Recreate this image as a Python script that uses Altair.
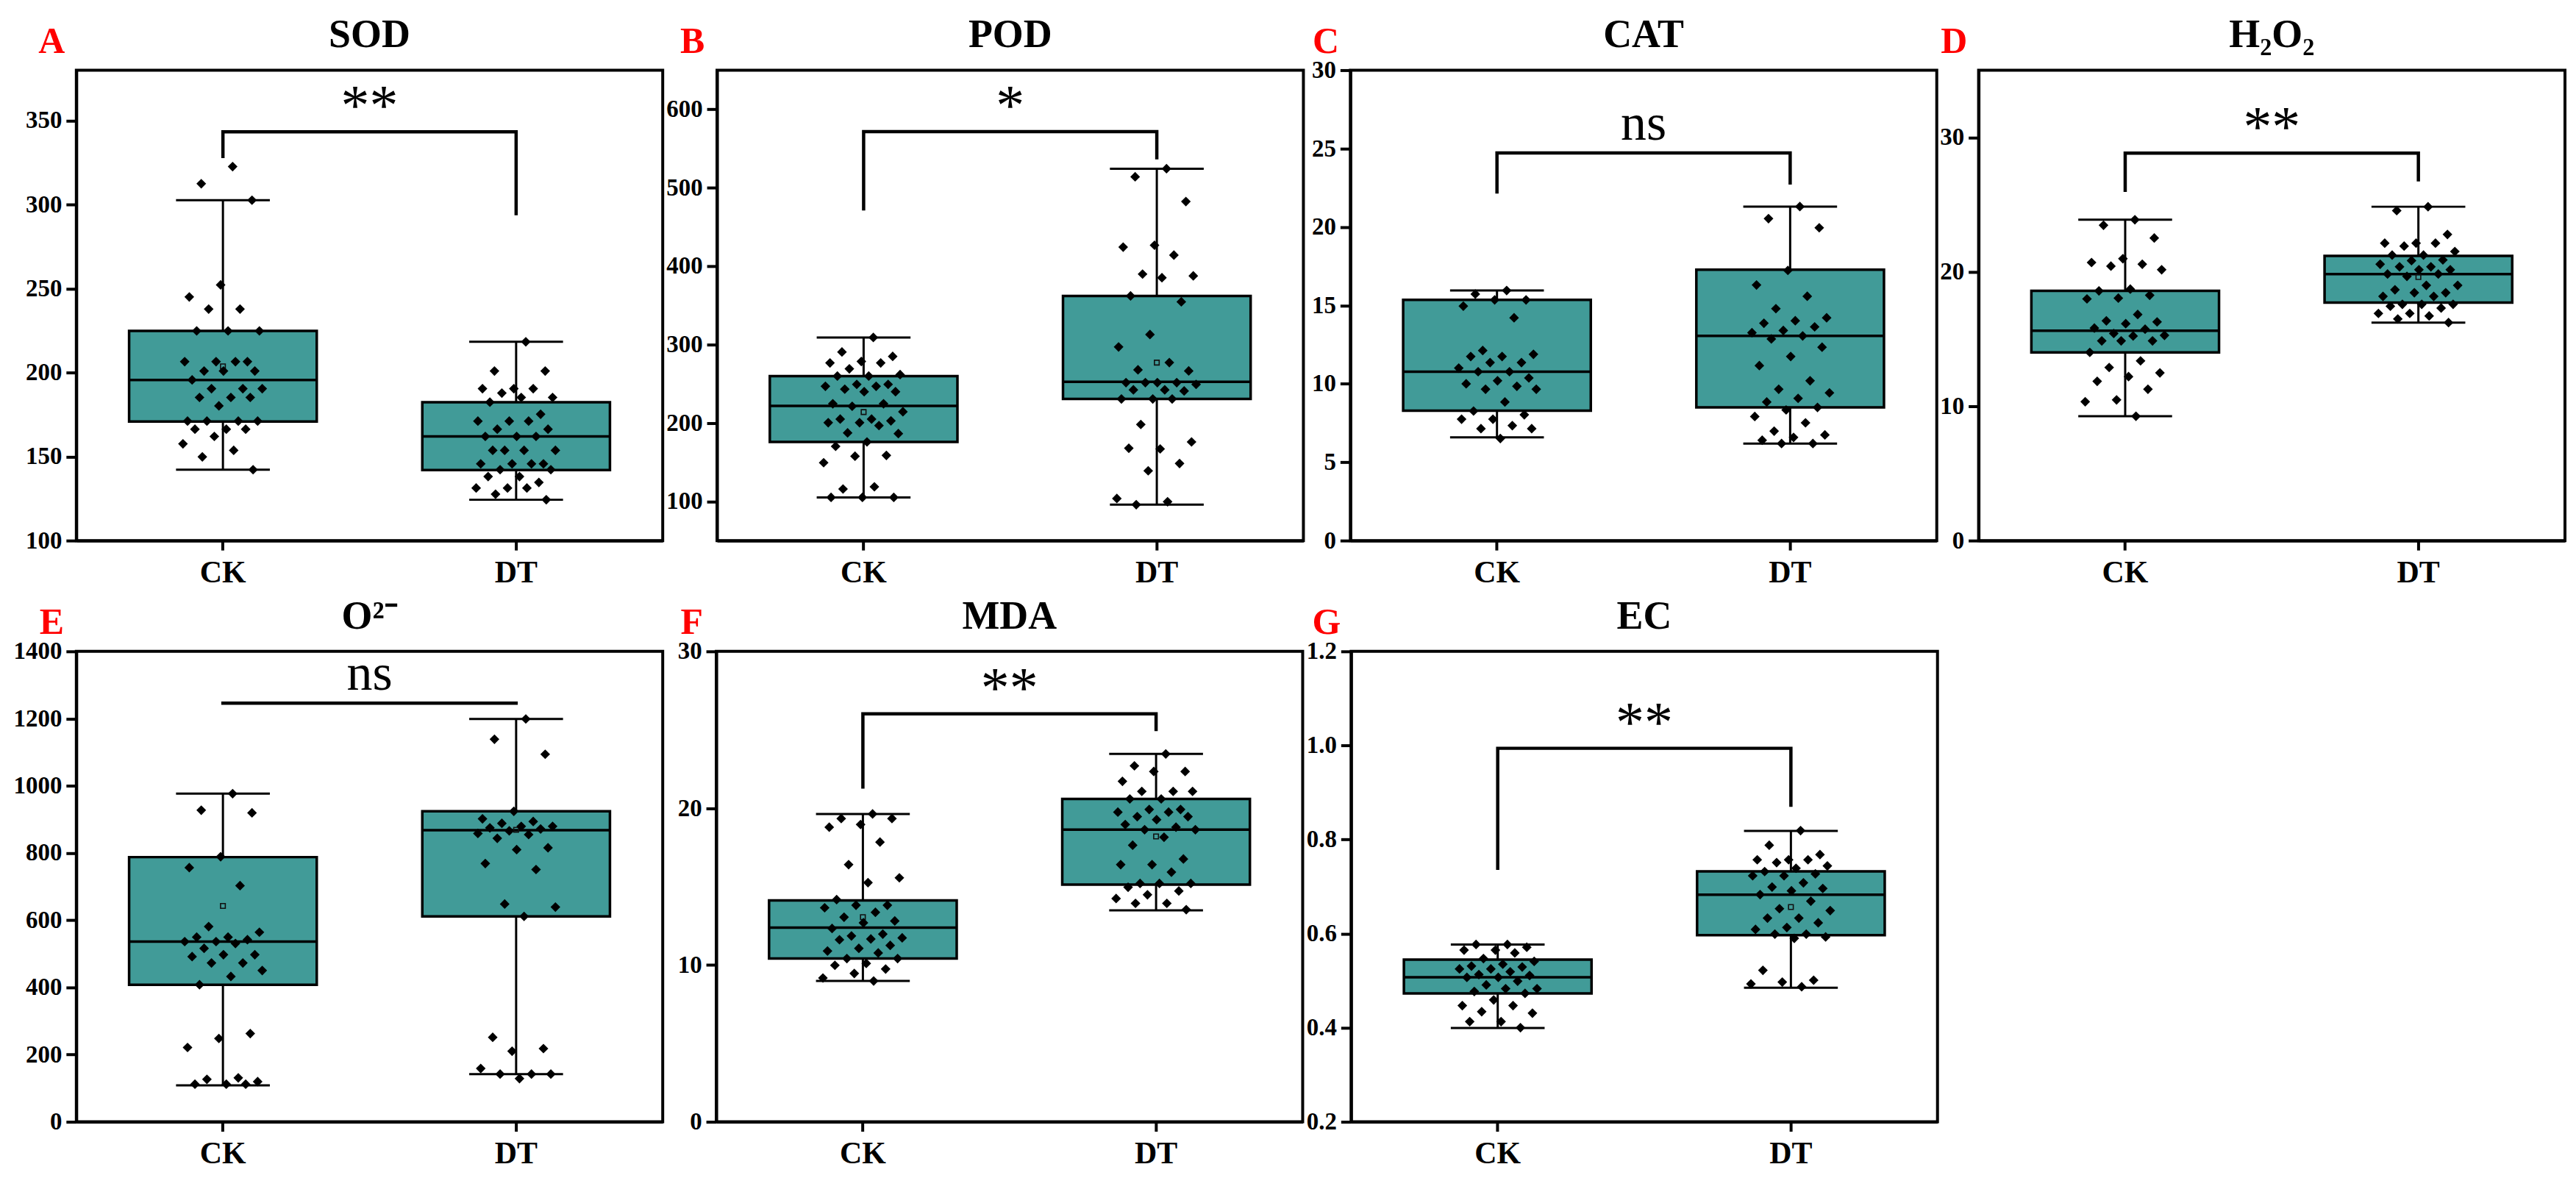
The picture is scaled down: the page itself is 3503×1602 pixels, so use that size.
import altair as alt
import pandas as pd

TEAL = "#419B98"
FONT = "Liberation Serif"
W, H = 799, 641
groups = ["CK", "DT"]

# ---------------- data ----------------
sod_ck = [322.6, 312.4, 302.6, 252.2, 245.0, 237.8, 237.8, 224.8, 224.8, 224.8, 206.5, 206.5, 206.5, 206.5,
          200.9, 200.9, 200.9, 195.6, 190.4, 190.4, 190.4, 185.2, 185.2, 185.2, 180.2, 171.1, 171.1, 171.1,
          171.1, 166.3, 166.3, 166.3, 162.0, 157.6, 153.7, 149.8, 142.2]
sod_dt = [218.3, 200.9, 200.9, 190.4, 190.4, 190.4, 187.8, 185.2, 185.2, 182.4, 175.2, 171.1, 171.1, 171.1,
          166.3, 166.3, 162.0, 162.0, 162.0, 153.7, 153.7, 153.7, 153.7, 145.7, 145.7, 145.7, 145.7, 142.2,
          142.2, 138.1, 138.1, 134.6, 131.3, 131.3, 131.3, 127.6, 124.3]
pod_ck = [309.1, 290.5, 284.9, 278.4, 276.6, 276.6, 269.1, 261.7, 259.8, 259.8, 249.2, 249.2, 246.8, 246.8,
          243.1, 239.9, 239.9, 224.5, 224.5, 221.3, 214.3, 205.0, 205.0, 202.7, 200.4, 200.4, 196.7, 187.4,
          186.4, 175.8, 170.2, 158.6, 157.6, 149.3, 118.6, 115.8, 105.1, 105.1, 105.1]
pod_dt = [524.3, 514.0, 482.4, 426.7, 424.3, 414.1, 389.9, 387.6, 385.3, 362.1, 354.6, 312.8, 297.0, 277.0,
          267.8, 266.4, 251.5, 251.5, 251.5, 251.5, 249.2, 242.2, 242.2, 240.8, 230.6, 230.6, 230.6, 198.1,
          175.8, 166.9, 167.8, 148.3, 139.0, 103.7, 99.5, 95.8]
cat_ck = [15.95, 15.72, 15.35, 15.35, 14.95, 14.21, 12.12, 11.88, 11.74, 11.74, 11.35, 11.35, 11.0, 10.77,
          10.77, 10.37, 10.19, 10.0, 9.84, 9.65, 9.65, 8.84, 8.26, 8.02, 7.74, 7.74, 7.33, 7.14, 7.14, 6.51]
cat_dt = [21.3, 20.53, 19.95, 17.23, 16.3, 15.58, 14.79, 14.21, 14.02, 13.86, 13.63, 13.4, 13.26, 13.05,
          12.86, 12.33, 11.74, 11.16, 10.19, 9.65, 9.42, 9.07, 8.84, 8.49, 8.33, 7.91, 7.51, 6.98, 6.74,
          6.58, 6.4, 6.19, 6.19]
h2o2_ck = [23.87, 23.46, 22.51, 20.97, 20.69, 20.56, 20.42, 20.15, 18.71, 18.58, 18.25, 18.04, 17.98, 16.82,
           16.35, 16.27, 16.14, 15.81, 15.73, 15.41, 15.27, 15.22, 14.86, 14.86, 14.86, 14.0, 13.37, 12.88,
           12.48, 12.2, 11.85, 11.26, 10.47, 10.33, 9.25]
h2o2_dt = [24.84, 24.55, 22.78, 22.13, 22.13, 22.13, 21.91, 21.51, 21.24, 21.24, 20.88, 20.83, 20.56, 20.37,
           20.37, 20.15, 20.15, 19.83, 19.83, 19.66, 18.99, 18.99, 18.66, 18.44, 18.44, 18.17, 18.17, 17.58,
           17.58, 17.58, 17.44, 17.3, 16.9, 16.9, 16.71, 16.49, 16.22]
o2_ck = [976.5, 927.4, 919.5, 788.8, 756.4, 702.8, 581.0, 564.2, 549.7, 549.7, 541.9, 536.3, 536.3, 530.7,
         516.2, 497.2, 497.2, 491.6, 472.6, 472.6, 450.3, 432.4, 407.8, 262.6, 248.0, 221.2, 130.7, 126.3,
         119.6, 112.0, 112.0, 112.0]
o2_dt = [1198.9, 1138.5, 1093.8, 924.0, 901.7, 893.8, 888.3, 879.3, 879.3, 874.8, 871.5, 865.9, 858.1, 854.7,
         843.6, 815.6, 810.0, 768.7, 750.8, 648.0, 639.1, 611.2, 251.4, 217.9, 210.1, 158.7, 141.9, 141.9,
         141.9, 128.5]
mda_ck = [19.63, 19.34, 19.34, 18.96, 18.79, 17.84, 16.4, 15.56, 15.25, 14.17, 13.81, 13.81, 13.65, 13.36,
          13.05, 12.81, 12.69, 12.33, 11.97, 11.85, 11.73, 11.66, 11.61, 11.25, 11.06, 10.89, 10.77, 10.41,
          10.41, 10.1, 9.98, 9.74, 9.46, 9.17, 8.98]
mda_dt = [23.46, 22.7, 22.34, 22.34, 21.71, 21.07, 21.07, 21.07, 20.59, 20.59, 19.92, 19.92, 19.75, 19.75,
          19.46, 19.46, 19.27, 18.96, 18.79, 18.63, 18.63, 18.15, 17.64, 16.76, 16.4, 16.4, 15.92, 15.2,
          15.2, 15.2, 14.96, 14.72, 14.48, 14.24, 13.93, 13.93, 13.53]
ec_ck = [0.577, 0.577, 0.571, 0.565, 0.565, 0.559, 0.547, 0.541, 0.535, 0.531, 0.529, 0.525, 0.525, 0.519,
         0.513, 0.511, 0.507, 0.507, 0.499, 0.491, 0.483, 0.483, 0.477, 0.473, 0.459, 0.447, 0.447, 0.434,
         0.431, 0.413, 0.413, 0.400]
ec_dt = [0.819, 0.788, 0.768, 0.757, 0.757, 0.757, 0.751, 0.744, 0.739, 0.732, 0.727, 0.723, 0.723, 0.708,
         0.699, 0.696, 0.691, 0.683, 0.669, 0.653, 0.649, 0.633, 0.633, 0.623, 0.613, 0.609, 0.599, 0.599,
         0.593, 0.590, 0.522, 0.501, 0.497, 0.493, 0.487]

# box statistics: [whisker low, Q1, median, Q3, whisker high]
box_stats = {
    "SOD": ([142.2, 170.9, 195.6, 224.8, 302.6], [124.3, 142.0, 162.0, 182.4, 218.3]),
    "POD": ([105.1, 175.8, 221.7, 259.8, 309.1], [95.8, 230.6, 252.4, 362.1, 524.3]),
    "CAT": ([6.58, 8.28, 10.77, 15.35, 15.95], [6.19, 8.49, 13.05, 17.28, 21.3]),
    "H2O2": ([9.25, 14.0, 15.62, 18.58, 23.87], [16.22, 17.71, 19.83, 21.18, 24.84]),
    "O2": ([108.4, 407.8, 536.3, 787.7, 976.5], [141.9, 611.2, 868.1, 924.0, 1198.9]),
    "MDA": ([8.98, 10.41, 12.38, 14.12, 19.63], [13.48, 15.13, 18.63, 20.59, 23.46]),
    "EC": ([0.3995, 0.4729, 0.5073, 0.5448, 0.5767], [0.4849, 0.5967, 0.6828, 0.7323, 0.8185]),
}
# visible mean markers (None = hidden behind points)
means = {
    "SOD": [203.7, None], "POD": [213.9, 277.0], "CAT": [None, None], "H2O2": [None, 19.61],
    "O2": [642.4, 869.0], "MDA": [13.05, 18.2], "EC": [None, 0.6565],
}
# significance brackets: (top, CK leg end, DT leg end)
brackets = {
    "SOD": (343.3, 328.7, 294.6), "POD": (571.7, 473.1, 538.2), "CAT": (24.72, 22.23, 22.81),
    "H2O2": (28.83, 26.06, 26.85), "O2": (1245.8, None, None), "MDA": (26.02, 21.35, 25.02),
    "EC": (0.994, 0.739, 0.873),
}
sig = {"SOD": "**", "POD": "*", "CAT": "ns", "H2O2": "**", "O2": "ns", "MDA": "**", "EC": "**"}

titles = {"SOD": "SOD", "POD": "POD", "CAT": "CAT", "H2O2": "H\u2082O\u2082", "O2": "O\u00b2\u207b",
          "MDA": "MDA", "EC": "EC"}
letters = {"SOD": "A", "POD": "B", "CAT": "C", "H2O2": "D", "O2": "E", "MDA": "F", "EC": "G"}
domains = {"SOD": [100, 380], "POD": [50, 650], "CAT": [0, 30], "H2O2": [0, 35], "O2": [0, 1400],
           "MDA": [0, 30], "EC": [0.2, 1.2]}
ticks = {"SOD": [100, 150, 200, 250, 300, 350], "POD": [100, 200, 300, 400, 500, 600],
         "CAT": [0, 5, 10, 15, 20, 25, 30], "H2O2": [0, 10, 20, 30],
         "O2": [0, 200, 400, 600, 800, 1000, 1200, 1400], "MDA": [0, 10, 20, 30],
         "EC": [0.2, 0.4, 0.6, 0.8, 1.0, 1.2]}
values = {"SOD": (sod_ck, sod_dt), "POD": (pod_ck, pod_dt), "CAT": (cat_ck, cat_dt),
          "H2O2": (h2o2_ck, h2o2_dt), "O2": (o2_ck, o2_dt), "MDA": (mda_ck, mda_dt), "EC": (ec_ck, ec_dt)}

# layout (style) settings
extent = {"SOD": 90, "POD": 69, "CAT": 60, "H2O2": 52, "O2": 90, "MDA": 69, "EC": 60}
BAND_W = (W / 2) * (1 - 0.36)
TITLE_FS = 54


def make_panel(key):
    ck, dt = values[key]
    bck, bdt = box_stats[key]
    bx = pd.DataFrame({
        "g": groups,
        "lo": [bck[0], bdt[0]], "q1": [bck[1], bdt[1]], "med": [bck[2], bdt[2]],
        "q3": [bck[3], bdt[3]], "hi": [bck[4], bdt[4]], "mean": means[key],
    })
    pts = pd.DataFrame({"g": ["CK"] * len(ck) + ["DT"] * len(dt), "v": ck + dt})
    top, lend, rend = brackets[key]
    rows = []
    if lend is not None:
        rows.append({"g": "CK", "v": lend, "o": 0})
    rows.append({"g": "CK", "v": top, "o": 1})
    rows.append({"g": "DT", "v": top, "o": 2})
    if rend is not None:
        rows.append({"g": "DT", "v": rend, "o": 3})
    br = pd.DataFrame(rows)
    txt = pd.DataFrame({"t": [sig[key]], "y": [top], "xm": [0.5]})

    xaxis = alt.Axis(title=None, labelAngle=0)
    xenc = alt.X("g:N", scale=alt.Scale(domain=groups, paddingInner=0.36, paddingOuter=0.18), axis=xaxis)
    fmt = ".1f" if key == "EC" else "d"
    yaxis = alt.Axis(values=ticks[key], format=fmt, title=letters[key], titleAngle=0, titleAlign="center",
                     titleBaseline="alphabetic", titleX=-34, titleY=-24, titleColor="#FF0000",
                     titleFont=FONT, titleFontSize=50, titleFontWeight="bold",
                     minExtent=extent[key], maxExtent=extent[key])
    yscale = alt.Scale(domain=domains[key], nice=False, zero=False)

    def Y(f):
        return alt.Y(f"{f}:Q", scale=yscale, axis=yaxis)

    # numeric x (0..1 across the panel) for jittered points and the centred label
    xq = alt.Scale(domain=[0, 1])

    whisk = alt.Chart(bx).mark_rule(color="black", strokeWidth=3).encode(x=xenc, y=Y("lo"), y2="hi")
    caps = alt.Chart(bx).transform_fold(["lo", "hi"], as_=["k", "w"]).mark_tick(
        color="black", thickness=3, size=BAND_W / 2, opacity=1).encode(x=xenc, y=Y("w"))
    box = alt.Chart(bx).mark_bar(fill=TEAL, stroke="black", strokeWidth=3.5, opacity=1).encode(
        x=xenc, y=Y("q1"), y2="q3")
    med = alt.Chart(bx).mark_tick(color="black", thickness=3.5, size=BAND_W, opacity=1).encode(
        x=xenc, y=Y("med"))
    mean = alt.Chart(bx).mark_point(shape="square", filled=False, size=42, color="#111111",
                                    strokeWidth=1.6, opacity=1).encode(x=xenc, y=Y("mean"))
    brk = alt.Chart(br).mark_line(color="black", strokeWidth=4.5, strokeCap="square").encode(
        x=xenc, y=Y("v"), order="o:Q")

    dots = alt.Chart(pts).transform_window(rn="row_number()", groupby=["g"]).transform_calculate(
        xp="(datum.g == 'CK' ? 0.25 : 0.75) + 0.14 * (((datum.rn * 0.6180339887) % 1) - 0.5)"
    ).mark_point(shape="diamond", filled=True, size=175, color="black", opacity=1).encode(
        x=alt.X("xp:Q", scale=xq, axis=None), y=Y("v"))
    dy = -18 if sig[key] == "ns" else -10
    fs = 70 if sig[key] == "ns" else 78
    label = alt.Chart(txt).mark_text(font=FONT, fontSize=fs, baseline="alphabetic", align="center",
                                     dy=dy, color="black").encode(
        x=alt.X("xm:Q", scale=xq, axis=None), y=Y("y"), text="t:N")

    base = alt.layer(whisk, caps, box, med, mean, brk)
    over = alt.layer(dots, label)
    return alt.layer(base, over).resolve_scale(x="independent").properties(
        width=W, height=H,
        title=alt.TitleParams(text=titles[key], font=FONT, fontSize=TITLE_FS, fontWeight="bold",
                              anchor="middle", offset=-44, color="black"))


row1 = alt.hconcat(*[make_panel(k) for k in ["SOD", "POD", "CAT", "H2O2"]], spacing=0)
row2 = alt.hconcat(*[make_panel(k) for k in ["O2", "MDA", "EC"]], spacing=0)

chart = alt.vconcat(row1, row2, spacing=3).configure_view(
    stroke="black", strokeWidth=4, fill="white"
).configure_axis(
    grid=False, domainColor="black", domainWidth=4, tickColor="black", tickWidth=4,
    labelColor="black", labelFont=FONT, labelFontWeight="bold", labelFontSize=33
).configure_axisX(
    tickSize=13, labelPadding=10, labelFontSize=42, minExtent=70
).configure_axisY(
    tickSize=14, labelPadding=6
).properties(
    padding={"left": 4, "top": 10, "right": 5, "bottom": 5}, background="white"
)

chart.save("out.html", embed_options={"renderer": "svg", "actions": False})
